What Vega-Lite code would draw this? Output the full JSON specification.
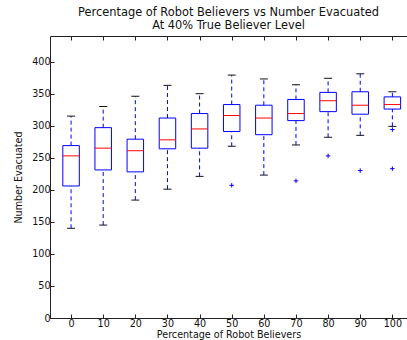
{
  "$schema": "https://vega.github.io/schema/vega-lite/v6.json",
  "autosize": "none",
  "width": 357,
  "height": 282,
  "padding": {"left": 50, "top": 36, "right": 0, "bottom": 22},
  "background": "white",
  "config": {
    "font": "DejaVu Sans",
    "view": {"stroke": "#222", "strokeWidth": 1},
    "axis": {
      "grid": false,
      "domain": false,
      "tickColor": "#222",
      "tickSize": -4,
      "labelOverlap": false,
      "labelFont": "DejaVu Sans",
      "labelFontSize": 9.6,
      "labelColor": "#111",
      "titleFont": "DejaVu Sans",
      "titleFontSize": 9.6,
      "titleFontWeight": "normal",
      "titleColor": "#111"
    }
  },
  "title": {
    "text": ["Percentage of Robot Believers vs Number Evacuated", "At 40% True Believer Level"],
    "fontSize": 11.4,
    "fontWeight": "normal",
    "font": "DejaVu Sans",
    "color": "#111",
    "anchor": "middle",
    "lineHeight": 13,
    "offset": 4
  },
  "datasets": {
    "boxes": [
      {"pct": 0, "lo": 140, "q1": 206, "med": 253, "q3": 269, "hi": 315},
      {"pct": 10, "lo": 145, "q1": 231, "med": 265, "q3": 297, "hi": 330},
      {"pct": 20, "lo": 184, "q1": 228, "med": 261, "q3": 279, "hi": 346},
      {"pct": 30, "lo": 201, "q1": 264, "med": 278, "q3": 312, "hi": 363},
      {"pct": 40, "lo": 221, "q1": 265, "med": 295, "q3": 319, "hi": 350},
      {"pct": 50, "lo": 268, "q1": 291, "med": 316, "q3": 333, "hi": 379},
      {"pct": 60, "lo": 223, "q1": 286, "med": 312, "q3": 332, "hi": 373},
      {"pct": 70, "lo": 270, "q1": 308, "med": 319, "q3": 341, "hi": 364},
      {"pct": 80, "lo": 282, "q1": 322, "med": 339, "q3": 352, "hi": 374},
      {"pct": 90, "lo": 285, "q1": 318, "med": 332, "q3": 353, "hi": 381},
      {"pct": 100, "lo": 299, "q1": 326, "med": 333, "q3": 345, "hi": 353}
    ],
    "outliers": [
      {"pct": 50, "value": 207},
      {"pct": 70, "value": 214},
      {"pct": 80, "value": 253},
      {"pct": 90, "value": 230},
      {"pct": 100, "value": 294},
      {"pct": 100, "value": 233}
    ]
  },
  "layer": [
    {
      "data": {"name": "boxes"},
      "mark": {"type": "rule", "color": "#0000ff", "strokeDash": [4, 3], "strokeWidth": 1},
      "encoding": {
        "x": {"field": "pct", "type": "quantitative", "scale": {"domain": [-5, 103], "nice": false, "zero": false},
          "axis": {"orient": "bottom", "values": [0,10,20,30,40,50,60,70,80,90,100], "title": "Percentage of Robot Believers", "labelPadding": 4, "titlePadding": 2}},
        "y": {"field": "lo", "type": "quantitative", "scale": {"domain": [0, 440], "nice": false},
          "axis": {"values": [0,50,100,150,200,250,300,350,400], "title": "Number Evacuated", "labelPadding": 4, "titlePadding": 8}},
        "y2": {"field": "q1"}
      }
    },
    {
      "data": {"name": "boxes"},
      "mark": {"type": "rule", "color": "#0000ff", "strokeDash": [4, 3], "strokeWidth": 1},
      "encoding": {
        "x": {"field": "pct", "type": "quantitative", "axis": null},
        "y": {"field": "q3", "type": "quantitative",
          "axis": {"values": [0,50,100,150,200,250,300,350,400], "title": "Number Evacuated", "labelPadding": 4, "titlePadding": 8}},
        "y2": {"field": "hi"}
      }
    },
    {
      "data": {"name": "boxes"},
      "mark": {"type": "tick", "orient": "horizontal", "color": "#111", "size": 8, "thickness": 1, "opacity": 1},
      "encoding": {
        "x": {"field": "pct", "type": "quantitative", "axis": null},
        "y": {"field": "lo", "type": "quantitative",
          "axis": {"values": [0,50,100,150,200,250,300,350,400], "title": "Number Evacuated", "labelPadding": 4, "titlePadding": 8}}
      }
    },
    {
      "data": {"name": "boxes"},
      "mark": {"type": "tick", "orient": "horizontal", "color": "#111", "size": 8, "thickness": 1, "opacity": 1},
      "encoding": {
        "x": {"field": "pct", "type": "quantitative", "axis": null},
        "y": {"field": "hi", "type": "quantitative",
          "axis": {"values": [0,50,100,150,200,250,300,350,400], "title": "Number Evacuated", "labelPadding": 4, "titlePadding": 8}}
      }
    },
    {
      "data": {"name": "boxes"},
      "mark": {"type": "bar", "size": 16.5, "fill": "white", "fillOpacity": 0, "stroke": "#0000ff", "strokeWidth": 1},
      "encoding": {
        "x": {"field": "pct", "type": "quantitative", "axis": null},
        "y": {"field": "q1", "type": "quantitative",
          "axis": {"values": [0,50,100,150,200,250,300,350,400], "title": "Number Evacuated", "labelPadding": 4, "titlePadding": 8}},
        "y2": {"field": "q3"}
      }
    },
    {
      "data": {"name": "boxes"},
      "mark": {"type": "tick", "orient": "horizontal", "color": "#ff0000", "size": 16.5, "thickness": 1, "opacity": 1},
      "encoding": {
        "x": {"field": "pct", "type": "quantitative", "axis": null},
        "y": {"field": "med", "type": "quantitative",
          "axis": {"values": [0,50,100,150,200,250,300,350,400], "title": "Number Evacuated", "labelPadding": 4, "titlePadding": 8}}
      }
    },
    {
      "data": {"name": "outliers"},
      "mark": {"type": "point", "shape": "M-1,0L1,0M0,-1L0,1", "size": 20, "filled": false, "stroke": "#0000ff", "strokeWidth": 1, "opacity": 1},
      "encoding": {
        "x": {"field": "pct", "type": "quantitative",
          "axis": {"orient": "top", "values": [0,10,20,30,40,50,60,70,80,90,100], "labels": false, "title": null}},
        "y": {"field": "value", "type": "quantitative",
          "axis": {"values": [0,50,100,150,200,250,300,350,400], "title": "Number Evacuated", "labelPadding": 4, "titlePadding": 8}}
      }
    }
  ],
  "resolve": {"axis": {"x": "independent"}}
}
